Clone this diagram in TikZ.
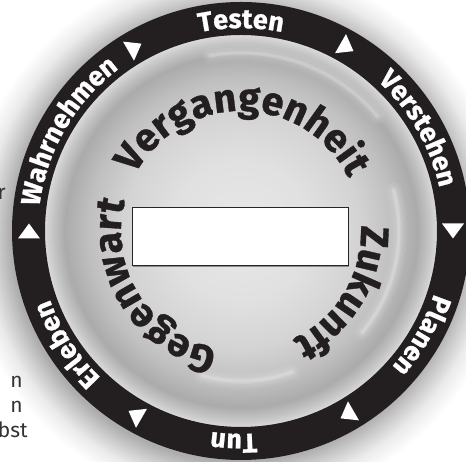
\documentclass[tikz,border=0pt]{standalone}
\usepackage{fontspec}
\setmainfont{Fira Sans}
\newfontfamily\ringfont{Fira Sans}[BoldFeatures={FakeBold=0.9}]
\usetikzlibrary{decorations.text}
\definecolor{ringblack}{HTML}{231F20}
\pgfdeclareradialshading{ringshadow}{\pgfpoint{0bp}{0bp}}{color(0bp)=(black!32); color(20.8bp)=(black!32); color(21.8bp)=(black!22); color(23.3bp)=(black!8); color(25bp)=(white); color(50bp)=(white)}
\pgfdeclareradialshading{diskshade}{\pgfpoint{0bp}{0bp}}{color(0bp)=(black!9); color(9bp)=(black!12); color(15bp)=(black!17); color(19.5bp)=(black!25); color(22.5bp)=(black!33); color(24bp)=(black!23); color(25bp)=(black!15); color(50bp)=(black!15)}
\begin{document}
\begin{tikzpicture}[x=1pt,y=1pt,
  ringlabel/.style={decorate, decoration={text along path, text align=center, text color=white,
      text={|\ringfont\bfseries\fontsize{27}{30}\selectfont|#1}}},
  innerlabel/.style={decorate, decoration={text along path, text align=center, text color=ringblack,
      text={|\ringfont\bfseries\fontsize{39.5}{42}\selectfont|#1}}},
  arrowtri/.style={fill=white},
  highlight/.style={draw=white, line cap=round},
  fragment/.style={inner sep=0pt, text=black!80, font=\fontsize{21}{25}\selectfont}]
\useasboundingbox (0,0) rectangle (466,462);
\fill[white] (0,0) rectangle (466,462);
\clip (0,0) rectangle (466,462);
\coordinate (C) at (241,231);
% shadow
\shade[shading=ringshadow] ([shift={(-4pt,-4pt)}]C) circle (272pt);
% fragments at the left
\node[fragment, anchor=base east] (f0) at (6,262) {r};
\node[fragment, anchor=base east] (f1) at (23,74) {n};
\node[fragment, anchor=base east] (f2) at (23,49) {n};
\node[fragment, anchor=base east] (f3) at (28,24) {bst};
% disk
\shade[shading=diskshade] (C) circle (196pt);
% soft highlights
\foreach \w/\o in {16/0.06,11/0.08,6/0.12,3/0.18}{
  \draw[highlight, line width=\w pt, opacity=\o] ([shift={(15:158pt)}]C) arc[start angle=15, end angle=-40, radius=158pt];
  \draw[highlight, line width=\w pt, opacity=\o] ([shift={(255:150pt)}]C) arc[start angle=255, end angle=290, radius=150pt];
  \draw[highlight, line width=\w pt, opacity=\o] ([shift={(100:178pt)}]C) arc[start angle=100, end angle=40, radius=178pt];
}
% ring
\fill[ringblack, even odd rule] (C) circle (229pt) (C) circle (196pt);
% triangles
\foreach \a in {0,60,120,180,240,300}{
  \begin{scope}[shift={(C)}, rotate=\a]
    \fill[arrowtri] (212pt,-7.5pt) -- (201pt,7.5pt) -- (223pt,7.5pt) -- cycle;
  \end{scope}
}
% ring labels
\path[ringlabel=Testen] ([shift={(130:203pt)}]C) arc[start angle=130, end angle=50, radius=203pt];
\path[ringlabel=Verstehen] ([shift={(75:203pt)}]C) arc[start angle=75, end angle=-15, radius=203pt];
\path[ringlabel=Planen] ([shift={(10:203pt)}]C) arc[start angle=10, end angle=-70, radius=203pt];
\path[ringlabel=Tun] ([shift={(-52:203pt)}]C) arc[start angle=-52, end angle=-132, radius=203pt];
\path[ringlabel=Erleben] ([shift={(253:203pt)}]C) arc[start angle=253, end angle=173, radius=203pt];
\path[ringlabel=Wahrnehmen] ([shift={(200:203pt)}]C) arc[start angle=200, end angle=100, radius=203pt];
% inner labels
\path[innerlabel=Vergangenheit] ([shift={(172:120pt)}]C) arc[start angle=172, end angle=6, radius=120pt];
\path[innerlabel=Zukunft] ([shift={(30:120pt)}]C) arc[start angle=30, end angle=-92, radius=120pt];
\path[innerlabel=Gegenwart] ([shift={(272:120pt)}]C) arc[start angle=272, end angle=152, radius=120pt];
% box
\fill[black!45] (133,195) rectangle (349,253);
\node[draw=black!85, line width=1pt, fill=white, minimum width=216pt, minimum height=58pt, inner sep=0pt] (box) at (240,225) {};
\end{tikzpicture}
\end{document}
